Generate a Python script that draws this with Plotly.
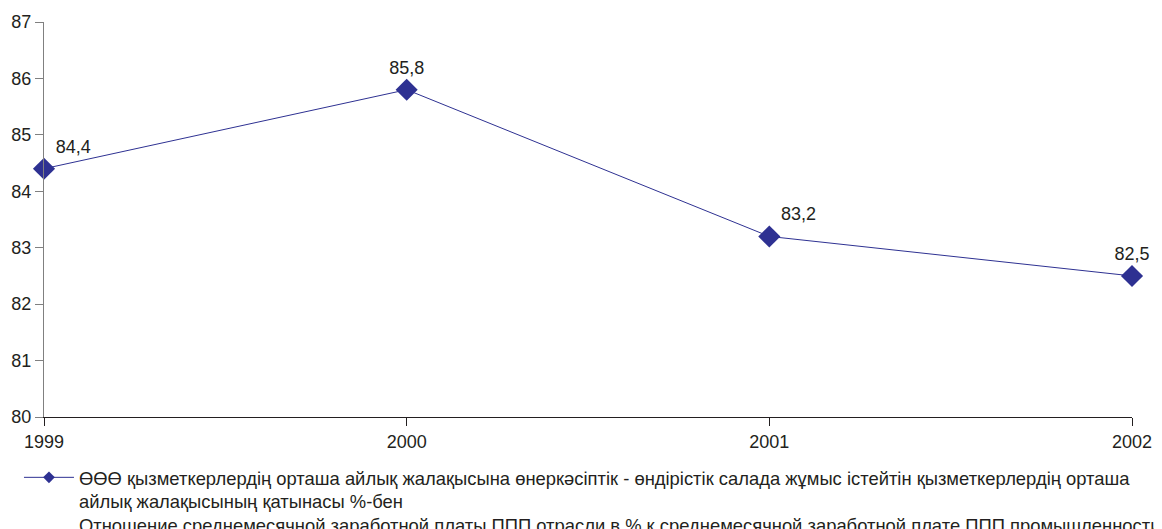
import plotly.graph_objects as go

years = [1999, 2000, 2001, 2002]
values = [84.4, 85.8, 83.2, 82.5]
labels = ["84,4", "85,8", "83,2", "82,5"]
label_pos = ["top right", "top center", "top right", "top center"]
y_ticks = [80, 81, 82, 83, 84, 85, 86, 87]
series_name = ("ӨӨӨ қызметкерлердің орташа айлық жалақысына өнеркәсіптік - өндірістік салада жұмыс істейтін қызметкерлердің орташа<br>"
               "айлық жалақысының қатынасы %-бен<br>"
               "Отношение среднемесячной заработной платы ППП отрасли в % к среднемесячной заработной плате ППП промышленности")

color = "#2E3192"
font = "Liberation Sans, Arial, sans-serif"
txt = "#231F20"

fig = go.Figure()
fig.add_trace(go.Scatter(
    x=years, y=values, mode="lines+markers+text",
    name=series_name, showlegend=False,
    line=dict(color=color, width=1),
    marker=dict(symbol="diamond", size=17, color=color),
    text=labels, textposition=label_pos,
    textfont=dict(size=18, color=txt, family=font),
    cliponaxis=False,
))
# legend-only entry with a smaller key marker
fig.add_trace(go.Scatter(
    x=[None], y=[None], mode="lines+markers",
    name=series_name, showlegend=True,
    line=dict(color=color, width=1),
    marker=dict(symbol="diamond", size=9, color=color),
))

# page body has an 8px margin, so the figure is sized/offset to compensate
fig.update_layout(
    width=1154, height=521,
    margin=dict(l=36, r=30, t=14, b=112, autoexpand=False),
    paper_bgcolor="white", plot_bgcolor="white",
    font=dict(family=font, size=18, color=txt),
    showlegend=True,
    legend=dict(x=-0.023, xanchor="left", y=-0.106, yanchor="top", valign="top",
                font=dict(size=18.4, family=font, color=txt),
                bgcolor="rgba(0,0,0,0)", itemwidth=50, tracegroupgap=0),
    xaxis=dict(range=[1999, 2002], tickvals=years, ticktext=[str(y) for y in years],
               showgrid=False, zeroline=False, showline=True, linecolor=txt, linewidth=1,
               ticks="outside", ticklen=8, tickcolor=txt, tickfont=dict(size=18),
               automargin=False),
    yaxis=dict(range=[80, 87], tickvals=y_ticks, showgrid=False, zeroline=False,
               showline=True, linecolor="#808080", linewidth=1,
               ticks="outside", ticklen=8, tickcolor="#808080", tickfont=dict(size=18),
               automargin=False),
)

fig.write_html("out.html")
